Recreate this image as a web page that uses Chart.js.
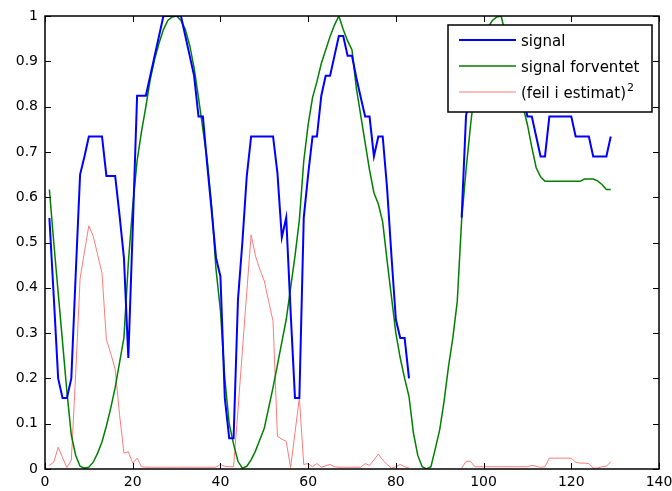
<!DOCTYPE html>
<html>
<head>
<meta charset="utf-8">
<script src="https://cdn.jsdelivr.net/npm/chart.js@4/dist/chart.umd.min.js"></script>
<style>
  html, body { margin: 0; padding: 0; background: #fff; }
  #wrap { width: 672px; height: 491px; }
</style>
</head>
<body>
<div id="wrap"><canvas id="chart" width="672" height="491"></canvas></div>
<script>
// sample index (x)
const sampleIdx = [
  1, 2, 3, 4, 5, 6, 7, 8, 9, 10, 11, 12, 13, 14, 15, 16, 17, 18, 19, 20,
  21, 22, 23, 24, 25, 26, 27, 28, 29, 30, 31, 32, 33, 34, 35, 36, 37, 38, 39, 40,
  41, 42, 43, 44, 45, 46, 47, 48, 49, 50, 51, 52, 53, 54, 55, 56, 57, 58, 59, 60,
  61, 62, 63, 64, 65, 66, 67, 68, 69, 70, 71, 72, 73, 74, 75, 76, 77, 78, 79, 80,
  81, 82, 83, 84, 85, 86, 87, 88, 89, 90, 91, 92, 93, 94, 95, 96, 97, 98, 99, 100,
  101, 102, 103, 104, 105, 106, 107, 108, 109, 110, 111, 112, 113, 114, 115, 116, 117, 118, 119, 120,
  121, 122, 123, 124, 125, 126, 127, 128, 129
];

// measured signal (blue), gap where nothing was recorded
const signal = [
  0.554, 0.38, 0.20, 0.157, 0.157, 0.20, 0.43, 0.65, 0.69, 0.734,
  0.734, 0.734, 0.734, 0.647, 0.647, 0.647, 0.56, 0.466, 0.245, 0.53,
  0.824, 0.824, 0.824, 0.868, 0.912, 0.956, 1.0, 1.0, 1.0, 1.0,
  1.0, 0.956, 0.912, 0.868, 0.778, 0.778, 0.67, 0.57, 0.466, 0.425,
  0.157, 0.068, 0.068, 0.374, 0.50, 0.646, 0.734, 0.734, 0.734, 0.734,
  0.734, 0.734, 0.653, 0.511, 0.555, 0.348, 0.157, 0.157, 0.555, 0.65,
  0.734, 0.734, 0.824, 0.868, 0.868, 0.912, 0.956, 0.956, 0.912, 0.912,
  0.863, 0.82, 0.778, 0.778, 0.69, 0.734, 0.734, 0.62, 0.47, 0.33,
  0.289, 0.289, 0.20, null, null, null, null, null, null, null,
  null, null, null, null, 0.555, 0.78, 0.824, 0.868, 0.912, 0.912,
  0.956, 0.956, 0.956, 0.956, 0.912, 0.912, 0.868, 0.868, 0.824, 0.778,
  0.778, 0.734, 0.69, 0.69, 0.778, 0.778, 0.778, 0.778, 0.778, 0.778,
  0.734, 0.734, 0.734, 0.734, 0.69, 0.69, 0.69, 0.69, 0.734
];

// expected signal (green)
const expected = [
  0.617, 0.50, 0.39, 0.28, 0.17, 0.075, 0.03, 0.006, 0.002, 0.004,
  0.015, 0.035, 0.06, 0.095, 0.135, 0.18, 0.235, 0.29, 0.455, 0.58,
  0.68, 0.745, 0.80, 0.86, 0.905, 0.94, 0.97, 0.99, 0.998, 1.0,
  0.99, 0.97, 0.935, 0.885, 0.82, 0.75, 0.68, 0.58, 0.44, 0.35,
  0.20, 0.10, 0.055, 0.017, 0.002, 0.006, 0.02, 0.04, 0.065, 0.09,
  0.135, 0.18, 0.23, 0.28, 0.33, 0.40, 0.47, 0.55, 0.68, 0.76,
  0.82, 0.855, 0.895, 0.925, 0.955, 0.98, 1.0, 0.97, 0.945, 0.925,
  0.84, 0.78, 0.72, 0.66, 0.61, 0.585, 0.545, 0.46, 0.38, 0.30,
  0.245, 0.20, 0.16, 0.08, 0.03, 0.005, 0.0, 0.005, 0.045, 0.087,
  0.15, 0.226, 0.29, 0.37, 0.55, 0.66, 0.756, 0.84, 0.90, 0.945,
  0.975, 0.99, 0.998, 1.0, 0.96, 0.92, 0.88, 0.84, 0.80, 0.76,
  0.71, 0.665, 0.645, 0.635, 0.635, 0.635, 0.635, 0.635, 0.635, 0.635,
  0.635, 0.635, 0.64, 0.64, 0.64, 0.636, 0.628, 0.617, 0.617
];

// squared estimation error (light red)
const sqError = [
  0.008, 0.015, 0.048, 0.025, 0.003, 0.02, 0.21, 0.42, 0.48, 0.537,
  0.514, 0.473, 0.432, 0.285, 0.255, 0.22, 0.12, 0.035, 0.038, 0.013,
  0.024, 0.005, 0.004, 0.004, 0.004, 0.004, 0.004, 0.004, 0.004, 0.004,
  0.004, 0.004, 0.004, 0.004, 0.004, 0.004, 0.004, 0.004, 0.004, 0.01,
  0.006, 0.005, 0.005, 0.13, 0.26, 0.39, 0.517, 0.47, 0.44, 0.415,
  0.37, 0.326, 0.072, 0.066, 0.061, 0.003, 0.08, 0.157, 0.01, 0.012,
  0.005, 0.012, 0.004, 0.007, 0.01, 0.005, 0.004, 0.004, 0.004, 0.004,
  0.004, 0.004, 0.012, 0.008, 0.02, 0.033, 0.02, 0.01, 0.002, 0.005,
  0.01, 0.005, 0.002, null, null, null, null, null, null, null,
  null, null, null, null, 0.002, 0.017, 0.017, 0.005, 0.005, 0.005,
  0.005, 0.005, 0.005, 0.005, 0.005, 0.005, 0.005, 0.005, 0.005, 0.005,
  0.008, 0.006, 0.004, 0.005, 0.024, 0.024, 0.024, 0.024, 0.024, 0.024,
  0.015, 0.013, 0.013, 0.012, 0.002, 0.002, 0.005, 0.006, 0.016
];

const seriesLabels = ["signal", "signal forventet", "(feil i estimat)^2"];
const xTicks = [0, 20, 40, 60, 80, 100, 120, 140];
const yTicks = [0, 0.1, 0.2, 0.3, 0.4, 0.5, 0.6, 0.7, 0.8, 0.9, 1];

const FONT = "'DejaVu Sans', sans-serif";

// draws the boxed axes with inward ticks and the legend in the top-right corner
const matlabAxes = {
  id: "matlabAxes",
  afterDatasetsDraw(chart) {
    const { ctx, chartArea: a, scales } = chart;
    const tick = 6;
    ctx.save();
    ctx.strokeStyle = "#000";
    ctx.lineWidth = 1.5;
    ctx.strokeRect(a.left, a.top, a.right - a.left, a.bottom - a.top);
    ctx.lineWidth = 1;
    ctx.beginPath();
    xTicks.forEach((v) => {
      const px = Math.round(scales.x.getPixelForValue(v)) + 0.5;
      ctx.moveTo(px, a.bottom); ctx.lineTo(px, a.bottom - tick);
      ctx.moveTo(px, a.top); ctx.lineTo(px, a.top + tick);
    });
    yTicks.forEach((v) => {
      const py = Math.round(scales.y.getPixelForValue(v)) + 0.5;
      ctx.moveTo(a.left, py); ctx.lineTo(a.left + tick, py);
      ctx.moveTo(a.right, py); ctx.lineTo(a.right - tick, py);
    });
    ctx.stroke();

    // legend
    const box = { x: 448, y: 25, w: 204, h: 87 };
    ctx.fillStyle = "#fff";
    ctx.fillRect(box.x, box.y, box.w, box.h);
    ctx.lineWidth = 1.5;
    ctx.strokeRect(box.x, box.y, box.w, box.h);
    ctx.textBaseline = "alphabetic";
    ctx.textAlign = "left";
    chart.data.datasets.forEach((ds, i) => {
      const cy = box.y + 15 + i * 26;
      ctx.strokeStyle = ds.borderColor;
      ctx.lineWidth = ds.borderWidth;
      ctx.beginPath();
      ctx.moveTo(459, cy);
      ctx.lineTo(516, cy);
      ctx.stroke();
      ctx.fillStyle = "#000";
      const [base, sup] = ds.label.split("^");
      ctx.font = "15px " + FONT;
      ctx.fillText(base, 521, cy + 6);
      if (sup) {
        const w = ctx.measureText(base).width;
        ctx.font = "11px " + FONT;
        ctx.fillText(sup, 521 + w + 1, cy - 1);
      }
    });
    ctx.restore();
  }
};

new Chart(document.getElementById("chart"), {
  type: "line",
  data: {
    labels: sampleIdx,
    datasets: [
      {
        label: seriesLabels[0],
        data: signal,
        borderColor: "#0000ff",
        borderWidth: 2,
      },
      {
        label: seriesLabels[1],
        data: expected,
        borderColor: "#008000",
        borderWidth: 1.5,
      },
      {
        label: seriesLabels[2],
        data: sqError,
        borderColor: "#ff7a7a",
        borderWidth: 1,
      },
    ],
  },
  options: {
    responsive: false,
    animation: false,
    devicePixelRatio: 1,
    spanGaps: false,
    elements: {
      point: { radius: 0 },
      line: { tension: 0, fill: false },
    },
    layout: { padding: { top: 16, right: 13, left: 0, bottom: 0 } },
    plugins: {
      legend: { display: false },
      tooltip: { enabled: false },
    },
    scales: {
      x: {
        type: "linear",
        min: 0,
        max: 140,
        afterBuildTicks: (s) => { s.ticks = xTicks.map((v) => ({ value: v })); },
        afterFit: (s) => { s.height = 22; s.paddingLeft = 0; s.paddingRight = 0; },
        grid: { display: false, drawTicks: false },
        border: { display: false },
        ticks: {
          color: "#000",
          padding: 5,
          maxRotation: 0,
          autoSkip: false,
          font: { family: FONT, size: 14 },
        },
      },
      y: {
        min: 0,
        max: 1,
        afterBuildTicks: (s) => { s.ticks = yTicks.map((v) => ({ value: v })); },
        afterFit: (s) => { s.width = 45; s.paddingTop = 0; s.paddingBottom = 0; },
        grid: { display: false, drawTicks: false },
        border: { display: false },
        ticks: {
          color: "#000",
          padding: 7,
          autoSkip: false,
          font: { family: FONT, size: 14 },
          callback: (v) => String(Math.round(v * 10) / 10),
        },
      },
    },
  },
  plugins: [matlabAxes],
});
</script>
</body>
</html>
